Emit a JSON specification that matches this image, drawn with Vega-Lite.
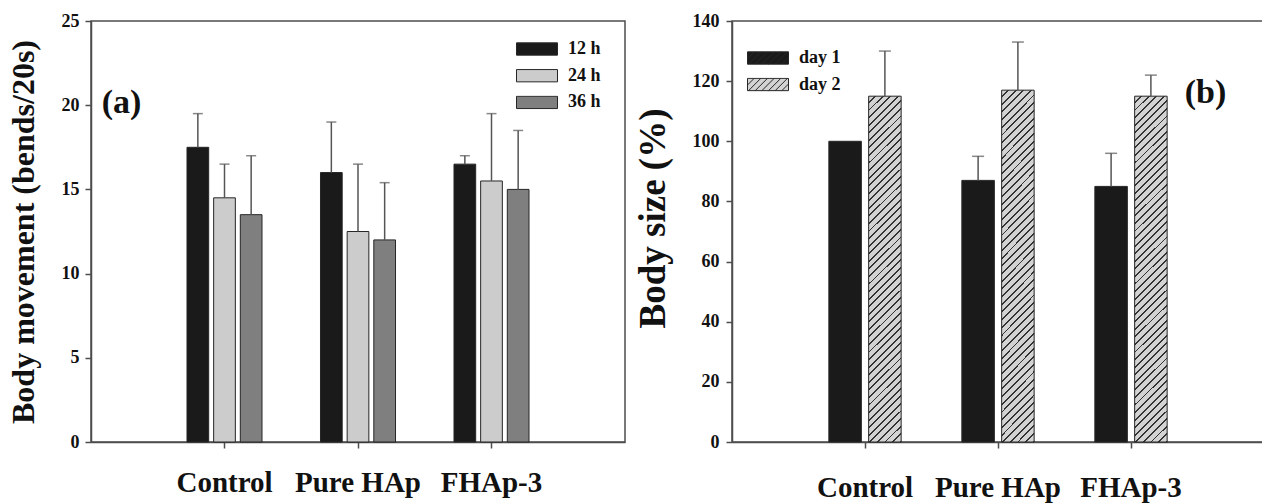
{
 "$schema": "https://vega.github.io/schema/vega-lite/v6.json",
 "background": "white",
 "padding": {"left": 6, "top": 11, "right": 0, "bottom": 0},
 "spacing": 7,
 "config": {
  "font": "Liberation Serif",
  "view": {"stroke": "#4d4d4d", "strokeWidth": 1.5},
  "axis": {"labelFont": "Liberation Serif", "labelFontWeight": "bold", "labelColor": "#111", "titleFont": "Liberation Serif", "titleFontWeight": "bold", "titleColor": "#111", "domainColor": "#4d4d4d", "domainWidth": 1.5, "tickColor": "#4d4d4d", "tickWidth": 1.5, "grid": false},
  "legend": {"labelFont": "Liberation Serif", "labelFontWeight": "bold", "labelColor": "#111", "labelFontSize": 18}
 },
 "resolve": {"scale": {"x": "independent", "y": "independent", "fill": "independent", "xOffset": "independent"}},
 "hconcat": [
  {
   "width": 534,
   "height": 421,
   "data": {"values": [
    {"group": "Control", "time": "12 h", "mean": 17.5, "upper": 19.5},
    {"group": "Control", "time": "24 h", "mean": 14.5, "upper": 16.5},
    {"group": "Control", "time": "36 h", "mean": 13.5, "upper": 17.0},
    {"group": "Pure HAp", "time": "12 h", "mean": 16.0, "upper": 19.0},
    {"group": "Pure HAp", "time": "24 h", "mean": 12.5, "upper": 16.5},
    {"group": "Pure HAp", "time": "36 h", "mean": 12.0, "upper": 15.4},
    {"group": "FHAp-3", "time": "12 h", "mean": 16.5, "upper": 17.0},
    {"group": "FHAp-3", "time": "24 h", "mean": 15.5, "upper": 19.5},
    {"group": "FHAp-3", "time": "36 h", "mean": 15.0, "upper": 18.5}
   ]},
   "layer": [
    {
     "mark": {"type": "bar", "stroke": "#262626", "strokeWidth": 1},
     "encoding": {
      "x": {"field": "group", "type": "nominal", "scale": {"domain": ["Control", "Pure HAp", "FHAp-3"], "paddingInner": 0.4382, "paddingOuter": 0.7191}, "axis": {"title": null, "labelAngle": 0, "labelFont": "Liberation Serif", "labelFontSize": 29, "labelPadding": 20, "tickSize": 6}},
      "xOffset": {"field": "time", "type": "nominal", "scale": {"domain": ["12 h", "24 h", "36 h"], "paddingInner": 0.186, "paddingOuter": 0}},
      "y": {"field": "mean", "type": "quantitative", "scale": {"domain": [0, 25], "nice": false}, "axis": {"values": [0, 5, 10, 15, 20, 25], "title": "Body movement (bends/20s)", "titleFont": "Liberation Serif", "titleFontSize": 32, "titlePadding": 21, "labelFont": "Liberation Serif", "labelFontSize": 18, "labelPadding": 6, "tickSize": 6}},
      "fill": {"field": "time", "type": "nominal", "scale": {"domain": ["12 h", "24 h", "36 h"], "range": ["#1a1a1a", "#cccccc", "#7f7f7f"]}, "legend": {"title": null, "orient": "none", "legendX": 425, "legendY": 21, "symbolType": "M-1,-0.3H1V0.3H-1Z", "symbolSize": 1681, "clipHeight": 14, "rowPadding": 8.7, "labelOffset": 10, "labelFont": "Liberation Serif", "symbolStrokeWidth": 1}}
     }
    },
    {
     "mark": {"type": "rule", "color": "#555555", "strokeWidth": 1.5},
     "encoding": {
      "x": {"field": "group", "type": "nominal"},
      "xOffset": {"field": "time", "type": "nominal"},
      "y": {"field": "mean", "type": "quantitative"},
      "y2": {"field": "upper"}
     }
    },
    {
     "mark": {"type": "tick", "color": "#555555", "thickness": 1.5, "size": 10},
     "encoding": {
      "x": {"field": "group", "type": "nominal"},
      "xOffset": {"field": "time", "type": "nominal"},
      "y": {"field": "upper", "type": "quantitative"}
     }
    },
    {
     "data": {"values": [{"label": "(a)"}]},
     "mark": {"type": "text", "font": "Liberation Serif", "fontWeight": "bold", "fontSize": 34, "dx": -103, "align": "center", "baseline": "middle", "color": "#111"},
     "encoding": {
      "x": {"datum": "Control", "type": "nominal"},
      "y": {"datum": 20.13, "type": "quantitative"},
      "text": {"field": "label", "type": "nominal"}
     }
    }
   ]
  },
  {
   "width": 532,
   "height": 421,
   "data": {"values": [
    {"group": "Control", "day": "day 1", "mean": 100, "upper": null},
    {"group": "Control", "day": "day 2", "mean": 115, "upper": 130},
    {"group": "Pure HAp", "day": "day 1", "mean": 87, "upper": 95},
    {"group": "Pure HAp", "day": "day 2", "mean": 117, "upper": 133},
    {"group": "FHAp-3", "day": "day 1", "mean": 85, "upper": 96},
    {"group": "FHAp-3", "day": "day 2", "mean": 115, "upper": 122}
   ]},
   "layer": [
    {
     "mark": {"type": "bar", "stroke": "#262626", "strokeWidth": 1},
     "encoding": {
      "x": {"field": "group", "type": "nominal", "scale": {"domain": ["Control", "Pure HAp", "FHAp-3"], "paddingInner": 0.4564, "paddingOuter": 0.7282}, "axis": {"title": null, "labelAngle": 0, "labelFont": "Liberation Serif", "labelFontSize": 29, "labelPadding": 25, "tickSize": 6}},
      "xOffset": {"field": "day", "type": "nominal", "scale": {"domain": ["day 1", "day 2"], "paddingInner": 0.183, "paddingOuter": 0}},
      "y": {"field": "mean", "type": "quantitative", "scale": {"domain": [0, 140], "nice": false}, "axis": {"values": [0, 20, 40, 60, 80, 100, 120, 140], "title": "Body size (%)", "titleFont": "Liberation Serif", "titleFontSize": 37, "titlePadding": 20, "titleY": 197, "labelFont": "Liberation Serif", "labelFontSize": 18, "labelPadding": 7, "tickSize": 6}},
      "fill": {
       "field": "day", "type": "nominal",
       "scale": {"domain": ["day 1", "day 2"], "range": ["#1a1a1a", "#d3d3d3"]},
       "legend": {"title": null, "orient": "none", "legendX": 15, "legendY": 30, "symbolType": "M-1,-0.3H1V0.3H-1Z M-1,0.025L-0.675,-0.3 M-0.95,0.3L-0.35,-0.3 M-0.625,0.3L-0.025,-0.3 M-0.3,0.3L0.3,-0.3 M0.025,0.3L0.625,-0.3 M0.35,0.3L0.95,-0.3 M0.675,0.3L1,-0.025", "symbolSize": 1681, "clipHeight": 14, "rowPadding": 8.5, "labelOffset": 10, "labelFont": "Liberation Serif", "symbolStrokeWidth": 1},
       "condition": {"test": "datum.day === 'day 2'", "value": {"gradient": "linear", "x1": 0, "y1": 0, "x2": 0.10123, "y2": 1.08395, "stops": [
        {"offset": 0, "color": "#d3d3d3"}, {"offset": 0.015, "color": "#d3d3d3"}, {"offset": 0.015, "color": "#333333"}, {"offset": 0.02, "color": "#333333"},
        {"offset": 0.02, "color": "#d3d3d3"}, {"offset": 0.035, "color": "#d3d3d3"}, {"offset": 0.035, "color": "#333333"}, {"offset": 0.04, "color": "#333333"},
        {"offset": 0.04, "color": "#d3d3d3"}, {"offset": 0.055, "color": "#d3d3d3"}, {"offset": 0.055, "color": "#333333"}, {"offset": 0.06, "color": "#333333"},
        {"offset": 0.06, "color": "#d3d3d3"}, {"offset": 0.075, "color": "#d3d3d3"}, {"offset": 0.075, "color": "#333333"}, {"offset": 0.08, "color": "#333333"},
        {"offset": 0.08, "color": "#d3d3d3"}, {"offset": 0.095, "color": "#d3d3d3"}, {"offset": 0.095, "color": "#333333"}, {"offset": 0.1, "color": "#333333"},
        {"offset": 0.1, "color": "#d3d3d3"}, {"offset": 0.115, "color": "#d3d3d3"}, {"offset": 0.115, "color": "#333333"}, {"offset": 0.12, "color": "#333333"},
        {"offset": 0.12, "color": "#d3d3d3"}, {"offset": 0.135, "color": "#d3d3d3"}, {"offset": 0.135, "color": "#333333"}, {"offset": 0.14, "color": "#333333"},
        {"offset": 0.14, "color": "#d3d3d3"}, {"offset": 0.155, "color": "#d3d3d3"}, {"offset": 0.155, "color": "#333333"}, {"offset": 0.16, "color": "#333333"},
        {"offset": 0.16, "color": "#d3d3d3"}, {"offset": 0.175, "color": "#d3d3d3"}, {"offset": 0.175, "color": "#333333"}, {"offset": 0.18, "color": "#333333"},
        {"offset": 0.18, "color": "#d3d3d3"}, {"offset": 0.195, "color": "#d3d3d3"}, {"offset": 0.195, "color": "#333333"}, {"offset": 0.2, "color": "#333333"},
        {"offset": 0.2, "color": "#d3d3d3"}, {"offset": 0.215, "color": "#d3d3d3"}, {"offset": 0.215, "color": "#333333"}, {"offset": 0.22, "color": "#333333"},
        {"offset": 0.22, "color": "#d3d3d3"}, {"offset": 0.235, "color": "#d3d3d3"}, {"offset": 0.235, "color": "#333333"}, {"offset": 0.24, "color": "#333333"},
        {"offset": 0.24, "color": "#d3d3d3"}, {"offset": 0.255, "color": "#d3d3d3"}, {"offset": 0.255, "color": "#333333"}, {"offset": 0.26, "color": "#333333"},
        {"offset": 0.26, "color": "#d3d3d3"}, {"offset": 0.275, "color": "#d3d3d3"}, {"offset": 0.275, "color": "#333333"}, {"offset": 0.28, "color": "#333333"},
        {"offset": 0.28, "color": "#d3d3d3"}, {"offset": 0.295, "color": "#d3d3d3"}, {"offset": 0.295, "color": "#333333"}, {"offset": 0.3, "color": "#333333"},
        {"offset": 0.3, "color": "#d3d3d3"}, {"offset": 0.315, "color": "#d3d3d3"}, {"offset": 0.315, "color": "#333333"}, {"offset": 0.32, "color": "#333333"},
        {"offset": 0.32, "color": "#d3d3d3"}, {"offset": 0.335, "color": "#d3d3d3"}, {"offset": 0.335, "color": "#333333"}, {"offset": 0.34, "color": "#333333"},
        {"offset": 0.34, "color": "#d3d3d3"}, {"offset": 0.355, "color": "#d3d3d3"}, {"offset": 0.355, "color": "#333333"}, {"offset": 0.36, "color": "#333333"},
        {"offset": 0.36, "color": "#d3d3d3"}, {"offset": 0.375, "color": "#d3d3d3"}, {"offset": 0.375, "color": "#333333"}, {"offset": 0.38, "color": "#333333"},
        {"offset": 0.38, "color": "#d3d3d3"}, {"offset": 0.395, "color": "#d3d3d3"}, {"offset": 0.395, "color": "#333333"}, {"offset": 0.4, "color": "#333333"},
        {"offset": 0.4, "color": "#d3d3d3"}, {"offset": 0.415, "color": "#d3d3d3"}, {"offset": 0.415, "color": "#333333"}, {"offset": 0.42, "color": "#333333"},
        {"offset": 0.42, "color": "#d3d3d3"}, {"offset": 0.435, "color": "#d3d3d3"}, {"offset": 0.435, "color": "#333333"}, {"offset": 0.44, "color": "#333333"},
        {"offset": 0.44, "color": "#d3d3d3"}, {"offset": 0.455, "color": "#d3d3d3"}, {"offset": 0.455, "color": "#333333"}, {"offset": 0.46, "color": "#333333"},
        {"offset": 0.46, "color": "#d3d3d3"}, {"offset": 0.475, "color": "#d3d3d3"}, {"offset": 0.475, "color": "#333333"}, {"offset": 0.48, "color": "#333333"},
        {"offset": 0.48, "color": "#d3d3d3"}, {"offset": 0.495, "color": "#d3d3d3"}, {"offset": 0.495, "color": "#333333"}, {"offset": 0.5, "color": "#333333"},
        {"offset": 0.5, "color": "#d3d3d3"}, {"offset": 0.515, "color": "#d3d3d3"}, {"offset": 0.515, "color": "#333333"}, {"offset": 0.52, "color": "#333333"},
        {"offset": 0.52, "color": "#d3d3d3"}, {"offset": 0.535, "color": "#d3d3d3"}, {"offset": 0.535, "color": "#333333"}, {"offset": 0.54, "color": "#333333"},
        {"offset": 0.54, "color": "#d3d3d3"}, {"offset": 0.555, "color": "#d3d3d3"}, {"offset": 0.555, "color": "#333333"}, {"offset": 0.56, "color": "#333333"},
        {"offset": 0.56, "color": "#d3d3d3"}, {"offset": 0.575, "color": "#d3d3d3"}, {"offset": 0.575, "color": "#333333"}, {"offset": 0.58, "color": "#333333"},
        {"offset": 0.58, "color": "#d3d3d3"}, {"offset": 0.595, "color": "#d3d3d3"}, {"offset": 0.595, "color": "#333333"}, {"offset": 0.6, "color": "#333333"},
        {"offset": 0.6, "color": "#d3d3d3"}, {"offset": 0.615, "color": "#d3d3d3"}, {"offset": 0.615, "color": "#333333"}, {"offset": 0.62, "color": "#333333"},
        {"offset": 0.62, "color": "#d3d3d3"}, {"offset": 0.635, "color": "#d3d3d3"}, {"offset": 0.635, "color": "#333333"}, {"offset": 0.64, "color": "#333333"},
        {"offset": 0.64, "color": "#d3d3d3"}, {"offset": 0.655, "color": "#d3d3d3"}, {"offset": 0.655, "color": "#333333"}, {"offset": 0.66, "color": "#333333"},
        {"offset": 0.66, "color": "#d3d3d3"}, {"offset": 0.675, "color": "#d3d3d3"}, {"offset": 0.675, "color": "#333333"}, {"offset": 0.68, "color": "#333333"},
        {"offset": 0.68, "color": "#d3d3d3"}, {"offset": 0.695, "color": "#d3d3d3"}, {"offset": 0.695, "color": "#333333"}, {"offset": 0.7, "color": "#333333"},
        {"offset": 0.7, "color": "#d3d3d3"}, {"offset": 0.715, "color": "#d3d3d3"}, {"offset": 0.715, "color": "#333333"}, {"offset": 0.72, "color": "#333333"},
        {"offset": 0.72, "color": "#d3d3d3"}, {"offset": 0.735, "color": "#d3d3d3"}, {"offset": 0.735, "color": "#333333"}, {"offset": 0.74, "color": "#333333"},
        {"offset": 0.74, "color": "#d3d3d3"}, {"offset": 0.755, "color": "#d3d3d3"}, {"offset": 0.755, "color": "#333333"}, {"offset": 0.76, "color": "#333333"},
        {"offset": 0.76, "color": "#d3d3d3"}, {"offset": 0.775, "color": "#d3d3d3"}, {"offset": 0.775, "color": "#333333"}, {"offset": 0.78, "color": "#333333"},
        {"offset": 0.78, "color": "#d3d3d3"}, {"offset": 0.795, "color": "#d3d3d3"}, {"offset": 0.795, "color": "#333333"}, {"offset": 0.8, "color": "#333333"},
        {"offset": 0.8, "color": "#d3d3d3"}, {"offset": 0.815, "color": "#d3d3d3"}, {"offset": 0.815, "color": "#333333"}, {"offset": 0.82, "color": "#333333"},
        {"offset": 0.82, "color": "#d3d3d3"}, {"offset": 0.835, "color": "#d3d3d3"}, {"offset": 0.835, "color": "#333333"}, {"offset": 0.84, "color": "#333333"},
        {"offset": 0.84, "color": "#d3d3d3"}, {"offset": 0.855, "color": "#d3d3d3"}, {"offset": 0.855, "color": "#333333"}, {"offset": 0.86, "color": "#333333"},
        {"offset": 0.86, "color": "#d3d3d3"}, {"offset": 0.875, "color": "#d3d3d3"}, {"offset": 0.875, "color": "#333333"}, {"offset": 0.88, "color": "#333333"},
        {"offset": 0.88, "color": "#d3d3d3"}, {"offset": 0.895, "color": "#d3d3d3"}, {"offset": 0.895, "color": "#333333"}, {"offset": 0.9, "color": "#333333"},
        {"offset": 0.9, "color": "#d3d3d3"}, {"offset": 0.915, "color": "#d3d3d3"}, {"offset": 0.915, "color": "#333333"}, {"offset": 0.92, "color": "#333333"},
        {"offset": 0.92, "color": "#d3d3d3"}, {"offset": 0.935, "color": "#d3d3d3"}, {"offset": 0.935, "color": "#333333"}, {"offset": 0.94, "color": "#333333"},
        {"offset": 0.94, "color": "#d3d3d3"}, {"offset": 0.955, "color": "#d3d3d3"}, {"offset": 0.955, "color": "#333333"}, {"offset": 0.96, "color": "#333333"},
        {"offset": 0.96, "color": "#d3d3d3"}, {"offset": 0.975, "color": "#d3d3d3"}, {"offset": 0.975, "color": "#333333"}, {"offset": 0.98, "color": "#333333"},
        {"offset": 0.98, "color": "#d3d3d3"}, {"offset": 0.995, "color": "#d3d3d3"}, {"offset": 0.995, "color": "#333333"}, {"offset": 1, "color": "#333333"}
       ]}}
      }
     }
    },
    {
     "transform": [{"filter": "datum.upper != null"}],
     "mark": {"type": "rule", "color": "#555555", "strokeWidth": 1.5},
     "encoding": {
      "x": {"field": "group", "type": "nominal"},
      "xOffset": {"field": "day", "type": "nominal"},
      "y": {"field": "mean", "type": "quantitative"},
      "y2": {"field": "upper"}
     }
    },
    {
     "transform": [{"filter": "datum.upper != null"}],
     "mark": {"type": "tick", "color": "#555555", "thickness": 1.5, "size": 12},
     "encoding": {
      "x": {"field": "group", "type": "nominal"},
      "xOffset": {"field": "day", "type": "nominal"},
      "y": {"field": "upper", "type": "quantitative"}
     }
    },
    {
     "data": {"values": [{"label": "(b)"}]},
     "mark": {"type": "text", "font": "Liberation Serif", "fontWeight": "bold", "fontSize": 34, "dx": 74.5, "align": "center", "baseline": "middle", "color": "#111"},
     "encoding": {
      "x": {"datum": "FHAp-3", "type": "nominal"},
      "y": {"datum": 116, "type": "quantitative"},
      "text": {"field": "label", "type": "nominal"}
     }
    }
   ]
  }
 ]
}
